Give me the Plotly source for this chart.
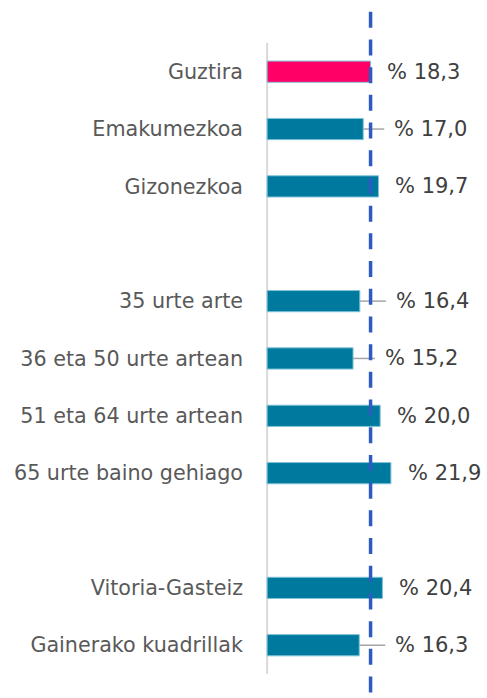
import plotly.graph_objects as go

categories = ["Guztira", "Emakumezkoa", "Gizonezkoa", " ",
              "35 urte arte", "36 eta 50 urte artean", "51 eta 64 urte artean",
              "65 urte baino gehiago", "  ",
              "Vitoria-Gasteiz", "Gainerako kuadrillak"]
values = [18.3, 17.0, 19.7, None, 16.4, 15.2, 20.0, 21.9, None, 20.4, 16.3]

# styling / placement (pixels)
label_gap_px = [14, 29, 15, None, 34, 30, 15, 15, None, 15, 34]
leader_len_px = [0, 21, 0, None, 26, 22, 0, 0, None, 0, 26]

BLUE = "#00799F"
PINK = "#FF0066"
bar_colors = [PINK] + [BLUE] * (len(categories) - 1)
ref_value = values[0]

FONT = "DejaVu Sans"

fig = go.Figure()
fig.add_trace(go.Bar(
    y=categories, x=values, orientation="h",
    marker=dict(color=bar_colors, line=dict(color="#7FC3D8", width=1)),
    width=0.37, hoverinfo="skip",
))

shapes = []
# category axis line
shapes.append(dict(type="line", xref="x", yref="y", x0=0, x1=0,
                   y0=-0.5, y1=len(categories) - 0.5,
                   line=dict(color="#D9D9D9", width=2), layer="below"))
annotations = []
for i, v in enumerate(values):
    if v is None:
        continue
    annotations.append(dict(
        x=v, y=categories[i], xref="x", yref="y", xanchor="left", yanchor="middle",
        xshift=label_gap_px[i], showarrow=False,
        text="% " + f"{v:.1f}".replace(".", ","),
        font=dict(family=FONT, size=21, color="#404040")))
    if leader_len_px[i]:
        shapes.append(dict(type="line", xref="x", yref="y", xsizemode="pixel",
                           xanchor=v, x0=0, x1=leader_len_px[i],
                           y0=categories[i], y1=categories[i],
                           line=dict(color="#A6A6A6", width=1.5)))
# reference dashed line (total value)
shapes.append(dict(type="line", xref="x", yref="y", x0=ref_value, x1=ref_value,
                   y0=-1.045, y1=11.2,
                   line=dict(color="#2E5BC0", width=3.5, dash="16px,11.7px")))

fig.update_layout(
    width=487, height=698,
    margin=dict(l=266, r=0, t=0, b=0),
    paper_bgcolor="white", plot_bgcolor="white",
    showlegend=False,
    shapes=shapes, annotations=annotations,
    xaxis=dict(range=[-0.2, 38.9], visible=False, fixedrange=True),
    yaxis=dict(type="category", categoryorder="array", categoryarray=categories,
               range=[10.92, -1.25], showgrid=False, zeroline=False, showline=False,
               ticks="", ticklabelstandoff=22, automargin=False, fixedrange=True,
               tickfont=dict(family=FONT, size=20.7, color="#595959")),
)

fig.write_html("out.html", config={"displayModeBar": False},
               post_script="document.body.style.margin='0';document.body.style.padding='0';")
